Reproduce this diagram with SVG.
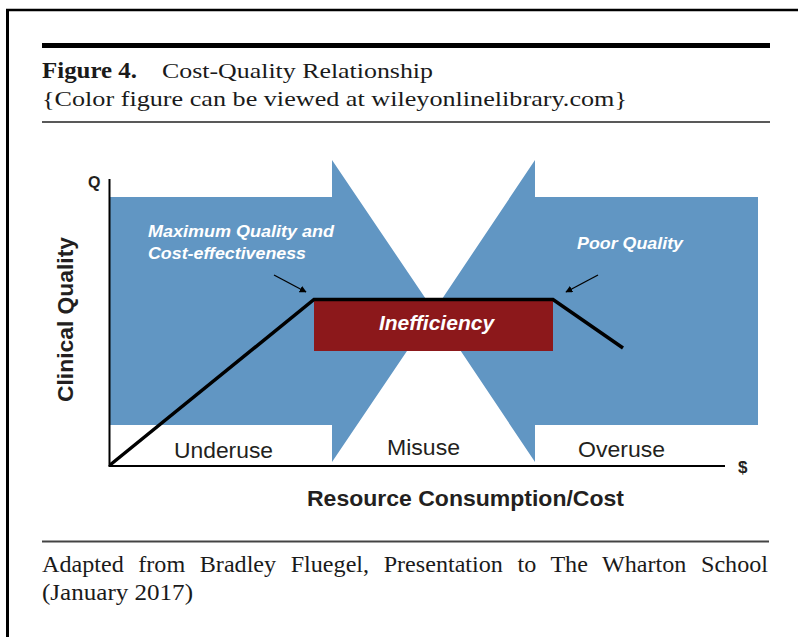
<svg xmlns="http://www.w3.org/2000/svg" width="798" height="637" viewBox="0 0 798 637">
  <defs>
    <style>
      .serif { font-family: "Liberation Serif", "DejaVu Serif", serif; fill: #1a1a1a; }
      .sans { font-family: "Liberation Sans", Arial, "DejaVu Sans", sans-serif; }
      .band { fill: #6196c3; }
      .label { font-size: 22px; fill: #231f20; }
      .axis-title { font-size: 22px; font-weight: bold; fill: #231f20; }
      .note { font-size: 17px; font-weight: bold; font-style: italic; fill: #ffffff; }
      .axis { stroke: #000000; stroke-width: 2; fill: none; }
      .curve { stroke: #000000; stroke-width: 3.5; fill: none; stroke-linejoin: miter; }
      .pointer { stroke: #000000; stroke-width: 1.3; fill: none; }
    </style>
    <marker id="tip" viewBox="0 0 10 10" refX="9" refY="5" markerWidth="7" markerHeight="7" markerUnits="userSpaceOnUse" orient="auto">
      <path d="M0,0 L10,5 L0,10 z" fill="#000000"/>
    </marker>
  </defs>

  <rect x="0" y="0" width="798" height="637" fill="#ffffff"/>

  <!-- page frame -->
  <g id="frame">
    <line x1="6" y1="10" x2="798" y2="10" stroke="#000" stroke-width="2.5"/>
    <line x1="7.5" y1="9" x2="7.5" y2="637" stroke="#000" stroke-width="3"/>
  </g>

  <!-- figure heading -->
  <g id="heading">
    <rect x="42" y="43" width="728" height="5" fill="#000"/>
    <text class="serif" x="42" y="78" font-size="23" font-weight="bold" textLength="95" lengthAdjust="spacingAndGlyphs">Figure 4.</text>
    <text class="serif" x="162" y="78" font-size="22" textLength="271" lengthAdjust="spacingAndGlyphs">Cost-Quality Relationship</text>
    <text class="serif" x="42" y="106" font-size="22" textLength="585" lengthAdjust="spacingAndGlyphs">{Color figure can be viewed at wileyonlinelibrary.com}</text>
    <line x1="42" y1="122" x2="770" y2="122" stroke="#222" stroke-width="1.5"/>
  </g>

  <!-- chart -->
  <g id="underuse-arrow">
    <polygon class="band" points="109,197 332,197 332,160 434,311 332,462 332,425 109,425"/>
  </g>
  <g id="overuse-arrow">
    <polygon class="band" points="758,197 535,197 535,160 434,311 535,462 535,425 758,425"/>
  </g>

  <g id="inefficiency">
    <rect x="314" y="299" width="239" height="52" fill="#8c181b"/>
    <text class="sans" x="436.5" y="330" font-size="21" font-weight="bold" font-style="italic" fill="#ffffff" text-anchor="middle">Inefficiency</text>
  </g>

  <g id="axes">
    <line class="axis" x1="109.5" y1="179" x2="109.5" y2="466"/>
    <line class="axis" x1="108.5" y1="466" x2="725" y2="466"/>
    <text class="sans" x="88" y="188" font-size="16" font-weight="bold" fill="#231f20">Q</text>
    <text class="sans" x="738" y="473" font-size="17" font-weight="bold" fill="#231f20">$</text>
    <text class="sans axis-title" transform="translate(73 319.5) rotate(-90)" text-anchor="middle" textLength="165" lengthAdjust="spacingAndGlyphs">Clinical Quality</text>
    <text class="sans axis-title" x="307" y="506" textLength="317" lengthAdjust="spacingAndGlyphs">Resource Consumption/Cost</text>
  </g>

  <g id="zone-labels">
    <text class="sans label" x="174" y="458" textLength="99" lengthAdjust="spacingAndGlyphs">Underuse</text>
    <text class="sans label" x="387" y="455" textLength="73" lengthAdjust="spacingAndGlyphs">Misuse</text>
    <text class="sans label" x="578" y="457" textLength="87" lengthAdjust="spacingAndGlyphs">Overuse</text>
  </g>

  <g id="max-quality-note">
    <text class="sans note" x="148" y="237" textLength="186" lengthAdjust="spacingAndGlyphs">Maximum Quality and</text>
    <text class="sans note" x="148" y="259" textLength="158" lengthAdjust="spacingAndGlyphs">Cost-effectiveness</text>
  </g>
  <g id="poor-quality-note">
    <text class="sans note" x="577" y="249" textLength="106" lengthAdjust="spacingAndGlyphs">Poor Quality</text>
  </g>

  <!-- quality curve and pointers -->
  <g id="connectors">
    <polyline class="curve" points="110,465 314,299.5 553,299.5 623,348"/>
    <line class="pointer" x1="274" y1="275" x2="306" y2="292" marker-end="url(#tip)"/>
    <line class="pointer" x1="598" y1="275" x2="566" y2="292" marker-end="url(#tip)"/>
  </g>

  <!-- source note, justified across the rule -->
  <g id="source">
    <line x1="42" y1="541.5" x2="769" y2="541.5" stroke="#444" stroke-width="2"/>
    <text class="serif" x="42" y="572" font-size="24" word-spacing="8.5" textLength="726" lengthAdjust="spacingAndGlyphs">Adapted from Bradley Fluegel, Presentation to The Wharton School</text>
    <text class="serif" x="42" y="600" font-size="24" textLength="151" lengthAdjust="spacingAndGlyphs">(January 2017)</text>
  </g>
</svg>
